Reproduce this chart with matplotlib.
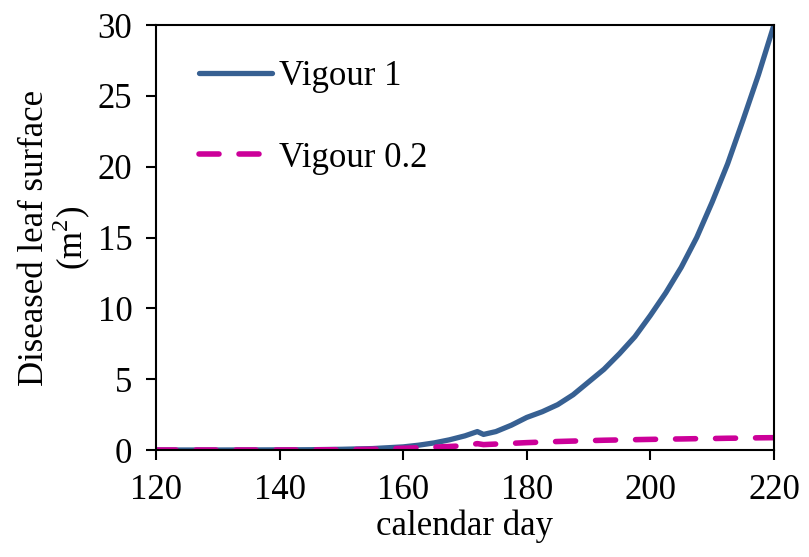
import matplotlib
matplotlib.use("Agg")
import matplotlib.pyplot as plt

plt.rcParams['font.family'] = ['Liberation Serif', 'DejaVu Serif']
plt.rcParams['mathtext.fontset'] = 'custom'
plt.rcParams['mathtext.rm'] = 'Liberation Serif'

# calendar day and diseased leaf surface (m2)
days = [120, 130, 140, 145, 150, 155, 160, 162.5, 165, 167.5, 170, 172, 173,
        175, 177.5, 180, 182.5, 185, 187.5, 190, 192.5, 195, 197.5, 200,
        202.5, 205, 207.5, 210, 212.5, 215, 217.5, 220]
vigour_1 = [0.0, 0.0, 0.01, 0.02, 0.05, 0.1, 0.22, 0.34, 0.5, 0.72, 1.0, 1.3, 1.1,
            1.3, 1.75, 2.3, 2.7, 3.2, 3.9, 4.8, 5.7, 6.8, 8.0, 9.5,
            11.1, 12.9, 15.0, 17.5, 20.2, 23.3, 26.5, 30.0]
vigour_02 = [0.0, 0.0, 0.0, 0.01, 0.02, 0.05, 0.12, 0.16, 0.2, 0.25, 0.3, 0.45, 0.38,
             0.42, 0.47, 0.52, 0.56, 0.6, 0.63, 0.66, 0.69, 0.71, 0.73, 0.75,
             0.77, 0.78, 0.8, 0.81, 0.83, 0.84, 0.86, 0.87]

fig = plt.figure(figsize=(8.09, 5.57), dpi=100)
ax = fig.add_axes([0.1928, 0.1921, 0.7639, 0.763])

ax.plot(days, vigour_1, color='#376092', lw=3.8, label='Vigour 1',
        solid_capstyle='round', solid_joinstyle='round')
ax.plot(days, vigour_02, color='#CC0099', lw=4.0, ls=(0, (3.6, 3.6)),
        dash_capstyle='round', label='Vigour 0.2')

ax.set_xlim(120, 220)
ax.set_ylim(0, 30)
ax.set_xticks(range(120, 221, 20))
ax.set_yticks(range(0, 31, 5))
ax.tick_params(direction='out', length=7, width=1.5, labelsize=25, pad=10,
               top=False, right=False)
for s in ax.spines.values():
    s.set_linewidth(1.5)

ax.set_xlabel('calendar day', fontsize=25, labelpad=2)
ax.set_ylabel('Diseased leaf surface\n(m$^2$)', fontsize=25, labelpad=3,
              linespacing=1.0)

ax.legend(loc='upper left', frameon=False, fontsize=25, handlelength=2.1,
          handletextpad=0.2, labelspacing=1.4, borderaxespad=0.3,
          bbox_to_anchor=(0.03, 0.975))

fig.savefig('out.png', dpi=100)
